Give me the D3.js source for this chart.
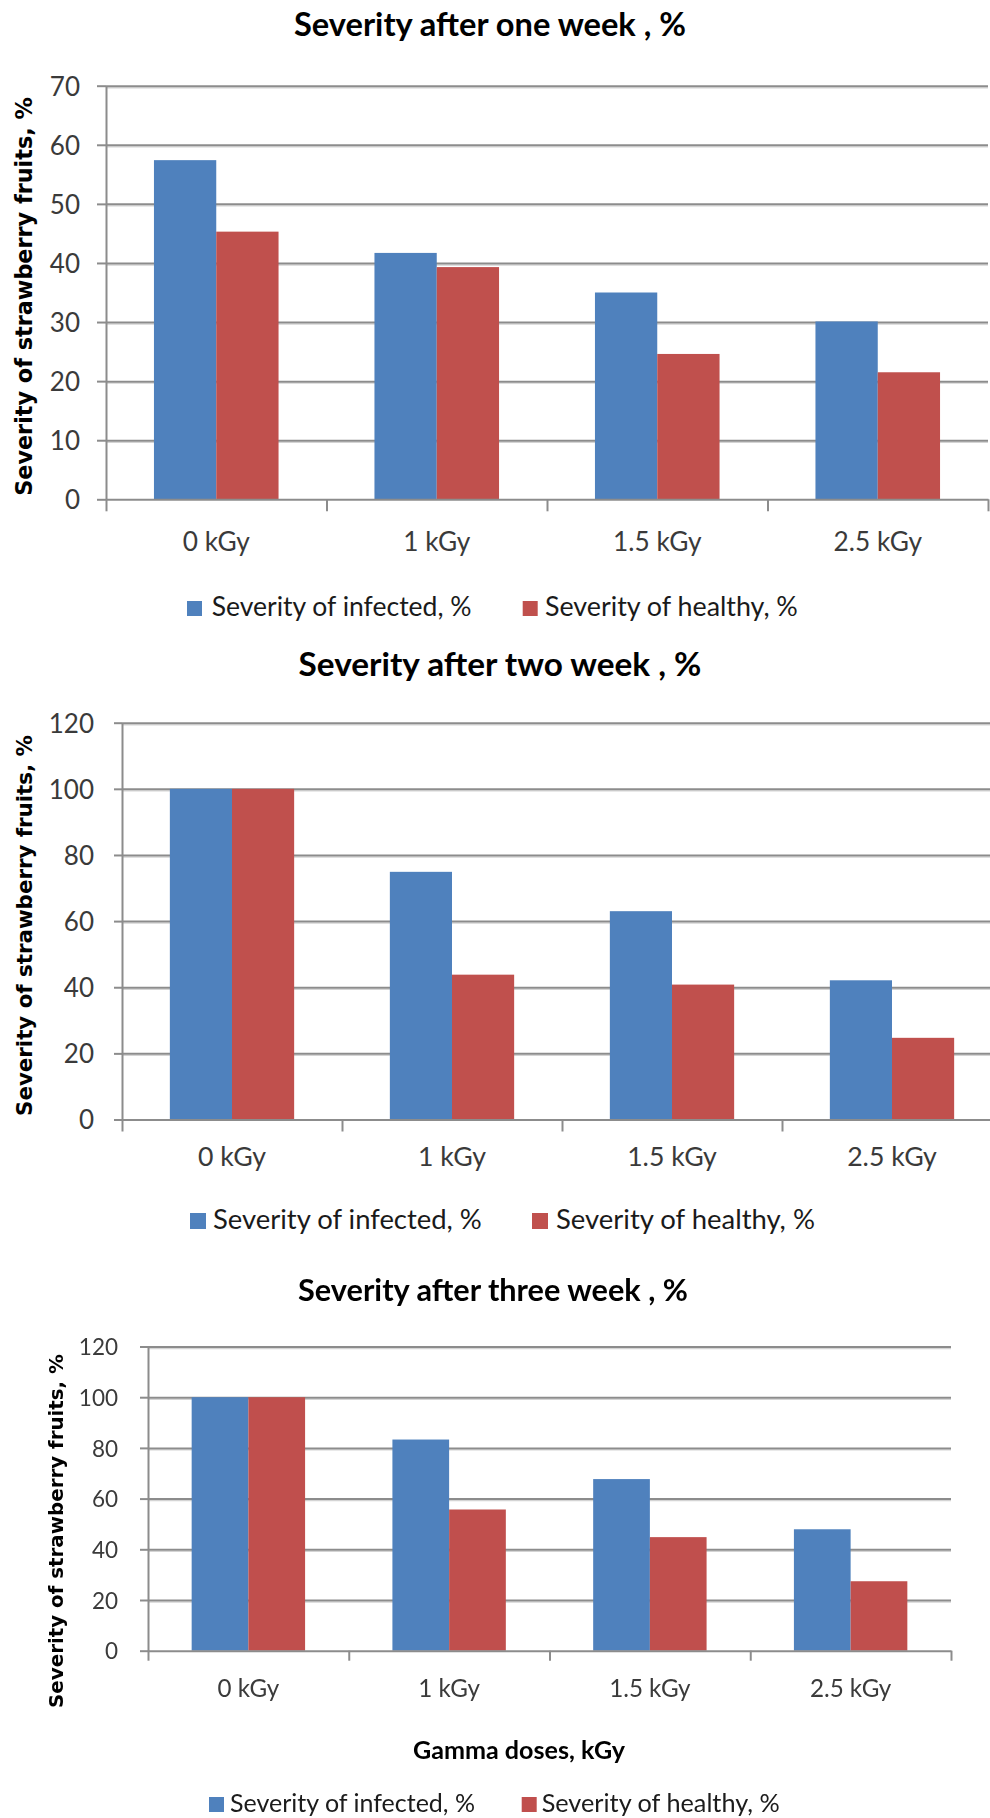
<!DOCTYPE html>
<html>
<head>
<meta charset="utf-8">
<script src="https://cdn.jsdelivr.net/npm/d3@7/dist/d3.min.js"></script>
<style>
  html, body { margin: 0; padding: 0; background: #ffffff; }
  svg { display: block; }
</style>
</head>
<body>
<svg id="chart" width="990" height="1818"></svg>
<script>
// ---- data ----
const categories = ["0 kGy", "1 kGy", "1.5 kGy", "2.5 kGy"];
const seriesNames = ["Severity of infected, %", "Severity of healthy, %"];
const seriesColors = ["#4f81bd", "#c0504d"];

const week1Infected = [57.4, 41.7, 35.0, 30.1];
const week1Healthy  = [45.3, 39.3, 24.6, 21.5];
const week2Infected = [100, 74.9, 63.0, 42.1];
const week2Healthy  = [100, 43.8, 40.8, 24.7];
const week3Infected = [100, 83.3, 67.7, 47.9];
const week3Healthy  = [100, 55.7, 44.8, 27.4];

const ticksWeek1 = [0, 10, 20, 30, 40, 50, 60, 70];
const ticksWeek2 = [0, 20, 40, 60, 80, 100, 120];
const ticksWeek3 = [0, 20, 40, 60, 80, 100, 120];

const titles = [
  "Severity after one week , %",
  "Severity after two week , %",
  "Severity after three week , %"
];
const yTitle = "Severity of strawberry fruits, %";
const xTitle = "Gamma doses, kGy";

// ---- layout of the three stacked panels ----
const panels = [
  {
    title: titles[0], series: [week1Infected, week1Healthy], ticks: ticksWeek1,
    x0: 106, x1: 988, yTop: 85.7, yBot: 499.3,
    tickSize: 9, tickPad: 17, tickFont: 26, xTickLen: 12,
    titleCx: 490, titleBase: 36, titleW: 392,
    yLabCx: 24, yLabCy: 296.5, yLabLen: 399,
    xLabBase: 551, xLabRefW: 67,
    legBase: 616, legSq: 15,
    leg: [{sq: 187, tx: 211.7, w: 260}, {sq: 522.7, tx: 545, w: 253}],
    blur: 0
  },
  {
    title: titles[1], series: [week2Infected, week2Healthy], ticks: ticksWeek2,
    x0: 122, x1: 1002, yTop: 722.7, yBot: 1119.5,
    tickSize: 8, tickPad: 20, tickFont: 26, xTickLen: 12,
    titleCx: 500, titleBase: 676, titleW: 403,
    yLabCx: 24, yLabCy: 925.5, yLabLen: 381,
    xLabBase: 1166, xLabRefW: 68,
    legBase: 1229, legSq: 16,
    leg: [{sq: 190, tx: 213, w: 269}, {sq: 532, tx: 556, w: 259}],
    blur: 0
  },
  {
    title: titles[2], series: [week3Infected, week3Healthy], ticks: ticksWeek3,
    x0: 148, x1: 951, yTop: 1346.5, yBot: 1650.7,
    tickSize: 8, tickPad: 22, tickFont: 22.5, xTickLen: 10,
    titleCx: 493, titleBase: 1301, titleW: 390,
    yLabCx: 56, yLabCy: 1531, yLabLen: 354,
    xLabBase: 1697, xLabRefW: 61.7, xLabRefIdx: 1,
    xTitleCx: 519, xTitleBase: 1759, xTitleW: 212,
    legBase: 1812, legSq: 15,
    leg: [{sq: 209, tx: 230, w: 245}, {sq: 521.7, tx: 541.7, w: 238}],
    blur: 0.6
  }
];

const FONT = "Lato, 'Open Sans', sans-serif";
const YFONT = "'DejaVu Sans', Verdana, sans-serif";

const svg = d3.select("#chart");
const defs = svg.append("defs");

// font size that makes a string span the given width
function fitSize(text, family, weight, width) {
  const t = svg.append("text").attr("font-family", family).attr("font-weight", weight)
    .attr("font-size", 100).text(text);
  const w = t.node().getComputedTextLength();
  t.remove();
  return 100 * width / w;
}

panels.forEach((p, pi) => {
  const g = svg.append("g");
  if (p.blur > 0) {
    defs.append("filter").attr("id", "soft" + pi)
      .attr("x", "-5%").attr("y", "-5%").attr("width", "110%").attr("height", "110%")
      .append("feGaussianBlur").attr("stdDeviation", p.blur);
    g.attr("filter", `url(#soft${pi})`);
  }

  const maxV = p.ticks[p.ticks.length - 1];
  const y = d3.scaleLinear().domain([0, maxV]).range([p.yBot, p.yTop]);
  const x = d3.scaleBand().domain(categories).range([p.x0, p.x1])
    .paddingInner(0.435).paddingOuter(0.2175);
  const xs = d3.scaleBand().domain(seriesNames).range([0, x.bandwidth()]);
  const xEdge = d3.scaleLinear().domain([0, categories.length]).range([p.x0, p.x1]);
  const W = p.x1 - p.x0;

  // gridlines (dark line with a light shadow under it)
  const gridShadow = g.append("g").attr("transform", `translate(${p.x0},1.6)`)
    .call(d3.axisLeft(y).tickValues(p.ticks.filter(v => v > 0)).tickSize(-W).tickFormat(""));
  gridShadow.select(".domain").remove();
  gridShadow.selectAll("line").attr("stroke", "#d4d4d4").attr("stroke-width", 1.2);

  const grid = g.append("g").attr("transform", `translate(${p.x0},0)`)
    .call(d3.axisLeft(y).tickValues(p.ticks.filter(v => v > 0)).tickSize(-W).tickFormat(""));
  grid.select(".domain").remove();
  grid.selectAll("line").attr("stroke", "#8c8c8c").attr("stroke-width", 2);

  // bars
  categories.forEach((c, ci) => {
    p.series.forEach((vals, si) => {
      g.append("rect")
        .attr("x", x(c) + xs(seriesNames[si]))
        .attr("y", y(vals[ci]))
        .attr("width", xs.bandwidth())
        .attr("height", y(0) - y(vals[ci]))
        .attr("fill", seriesColors[si]);
    });
  });

  // y axis
  const yAx = g.append("g").attr("transform", `translate(${p.x0},0)`)
    .call(d3.axisLeft(y).tickValues(p.ticks).tickSize(p.tickSize).tickPadding(p.tickPad).tickSizeOuter(0));
  yAx.select(".domain").attr("stroke", "#8c8c8c").attr("stroke-width", 2);
  yAx.selectAll(".tick line").attr("stroke", "#8c8c8c").attr("stroke-width", 2);
  yAx.selectAll(".tick text").attr("font-family", FONT).attr("font-size", p.tickFont)
    .attr("fill", "#3a3a3a").attr("dy", "0.36em");

  // x axis line with category-boundary ticks
  const xAx = g.append("g").attr("transform", `translate(0,${p.yBot})`)
    .call(d3.axisBottom(xEdge).tickValues(d3.range(categories.length + 1))
      .tickSize(p.xTickLen).tickSizeOuter(0).tickFormat(""));
  xAx.select(".domain").attr("stroke", "#8c8c8c").attr("stroke-width", 2);
  xAx.selectAll(".tick line").attr("stroke", "#8c8c8c").attr("stroke-width", 2);

  // category labels
  const refIdx = p.xLabRefIdx || 0;
  const xFont = fitSize(categories[refIdx], FONT, 400, p.xLabRefW);
  const xLab = g.append("g").attr("transform", `translate(0,${p.yBot})`)
    .call(d3.axisBottom(x).tickSize(0).tickPadding(0));
  xLab.select(".domain").remove();
  xLab.selectAll(".tick text").attr("font-family", FONT).attr("font-size", xFont)
    .attr("fill", "#3a3a3a").attr("y", p.xLabBase - p.yBot).attr("dy", 0);

  // title
  const tSize = fitSize(p.title, FONT, 700, p.titleW);
  g.append("text").attr("x", p.titleCx).attr("y", p.titleBase)
    .attr("text-anchor", "middle").attr("font-family", FONT).attr("font-weight", 700)
    .attr("font-size", tSize).attr("fill", "#000").text(p.title);

  // vertical axis title
  const ySize = fitSize(yTitle, YFONT, 700, p.yLabLen);
  g.append("text")
    .attr("transform", `translate(${p.yLabCx},${p.yLabCy}) rotate(-90)`)
    .attr("text-anchor", "middle").attr("dominant-baseline", "central")
    .attr("font-family", YFONT).attr("font-weight", 700)
    .attr("font-size", ySize).attr("fill", "#000").text(yTitle);

  // horizontal axis title
  if (p.xTitleW) {
    const xtSize = fitSize(xTitle, FONT, 700, p.xTitleW);
    g.append("text").attr("x", p.xTitleCx).attr("y", p.xTitleBase)
      .attr("text-anchor", "middle").attr("font-family", FONT).attr("font-weight", 700)
      .attr("font-size", xtSize).attr("fill", "#000").text(xTitle);
  }

  // legend
  p.leg.forEach((L, si) => {
    g.append("rect").attr("x", L.sq).attr("y", p.legBase - p.legSq)
      .attr("width", p.legSq).attr("height", p.legSq).attr("fill", seriesColors[si]);
    const ls = fitSize(seriesNames[si], FONT, 400, L.w);
    g.append("text").attr("x", L.tx).attr("y", p.legBase)
      .attr("font-family", FONT).attr("font-size", ls).attr("fill", "#1a1a1a")
      .text(seriesNames[si]);
  });
});
</script>
</body>
</html>
